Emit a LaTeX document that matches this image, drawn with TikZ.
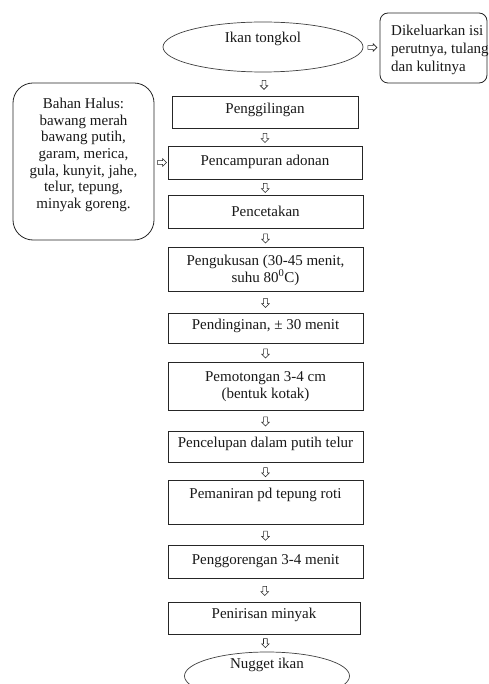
\documentclass[tikz,border=0pt]{standalone}
\usepackage{fontspec}
\setmainfont{Liberation Serif}
\usetikzlibrary{shapes.geometric,shapes.arrows}
\begin{document}
\begin{tikzpicture}[x=1pt,y=-1pt,
  every node/.style={font=\fontsize{15}{17}\selectfont, text=black!90},
  stepbox/.style={draw=black!85, line width=0.8pt, rectangle, inner sep=0pt},
  oval/.style={draw=black!75, line width=0.7pt, ellipse, inner sep=0pt},
  rbox/.style={draw=black!85, line width=0.8pt, rounded corners=#1, inner sep=0pt},
  harrow/.style={single arrow, draw=black!85, fill=white, line width=0.6pt,
    minimum height=9pt, minimum width=7.5pt, inner sep=1.2pt,
    single arrow head extend=1.5pt, single arrow head indent=0pt},
  downarr/.style={harrow, shape border rotate=270},
  rightarr/.style={harrow, shape border rotate=0},
  lbl/.style={align=center, inner sep=0pt}
]
\useasboundingbox[fill=white] (0,0) rectangle (488,684);

% top ellipse and removed parts box
\node[oval, minimum width=200pt, minimum height=50pt] (ikan) at (263,47) {};
\node[lbl] (tIkan) at (263,39) {Ikan tongkol};
\node[rbox=8pt, minimum width=107pt, minimum height=70pt] (buang) at (433.5,48) {};
\node[align=left, anchor=west, inner sep=0pt, font=\fontsize{15}{18}\selectfont] (tBuang) at (391,50) {Dikeluarkan isi\\perutnya, tulang\\dan kulitnya};

% left ingredient box
\node[rbox=20pt, minimum width=141pt, minimum height=157pt] (bahan) at (83.5,161.5) {};
\node[lbl, font=\fontsize{15}{16.7}\selectfont] (tBahan) at (83.5,155) {Bahan Halus:\\bawang merah\\bawang putih,\\garam, merica,\\gula, kunyit, jahe,\\telur, tepung,\\minyak goreng.};

% process boxes
\node[stepbox, minimum width=186pt, minimum height=32pt] (s1) at (265,112) {};
\node[lbl] at (265,110) {Penggilingan};
\node[stepbox, minimum width=194pt, minimum height=33pt] (s2) at (265,162.5) {};
\node[lbl] at (265,162) {Pencampuran adonan};
\node[stepbox, minimum width=195pt, minimum height=33pt] (s3) at (265.5,211.5) {};
\node[lbl] at (265.5,211) {Pencetakan};
\node[stepbox, minimum width=195pt, minimum height=44pt] (s4) at (265.5,269) {};
\node[lbl] at (265.5,270) {Pengukusan (30-45 menit,\\suhu 80\textsuperscript{0}C)};
\node[stepbox, minimum width=195pt, minimum height=30pt] (s5) at (265.5,328) {};
\node[lbl] at (265.5,326) {Pendinginan, ± 30 menit};
\node[stepbox, minimum width=195pt, minimum height=48pt] (s6) at (265.5,386) {};
\node[lbl] at (265.5,386.5) {Pemotongan 3-4 cm\\(bentuk kotak)};
\node[stepbox, minimum width=195pt, minimum height=31pt] (s7) at (265.5,446.5) {};
\node[lbl] at (265.5,444) {Pencelupan dalam putih telur};
\node[stepbox, minimum width=195pt, minimum height=44pt] (s8) at (265.5,502.5) {};
\node[lbl] at (265.5,495) {Pemaniran pd tepung roti};
\node[stepbox, minimum width=195pt, minimum height=33pt] (s9) at (265.5,561.5) {};
\node[lbl] at (265.5,561) {Penggorengan 3-4 menit};
\node[stepbox, minimum width=192pt, minimum height=32pt] (s10) at (264,618) {};
\node[lbl] at (264,615) {Penirisan minyak};

% final ellipse
\node[oval, minimum width=165pt, minimum height=48pt] (nugget) at (267,676) {};
\node[lbl] at (267,665) {Nugget ikan};

% connectors (small hollow arrows)
\path (ikan.south) -- (s1.north) node[downarr, midway] (a0) {};
\path (s1.south) -- (s2.north) node[downarr, midway] (a1) {};
\path (s2.south) -- (s3.north) node[downarr, midway] (a2) {};
\path (s3.south) -- (s4.north) node[downarr, midway] (a3) {};
\path (s4.south) -- (s5.north) node[downarr, midway] (a4) {};
\path (s5.south) -- (s6.north) node[downarr, midway] (a5) {};
\path (s6.south) -- (s7.north) node[downarr, midway] (a6) {};
\path (s7.south) -- (s8.north) node[downarr, midway] (a7) {};
\path (s8.south) -- (s9.north) node[downarr, midway] (a8) {};
\path (s9.south) -- (s10.north) node[downarr, midway] (a9) {};
\path (s10.south) -- (nugget.north) node[downarr, pos=0.45] (a10) {};
\path (ikan.east) -- (buang.west) node[rightarr, midway] (ar1) {};
\path (bahan.east |- s2.west) -- (s2.west) node[rightarr, midway] (ar2) {};
\end{tikzpicture}
\end{document}
